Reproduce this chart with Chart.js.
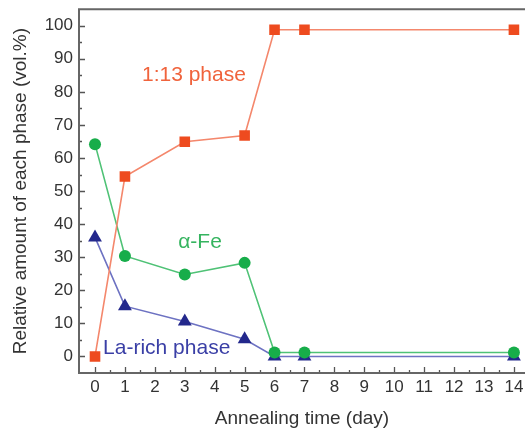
<!DOCTYPE html>
<html>
<head>
<meta charset="utf-8">
<script src="https://cdn.jsdelivr.net/npm/chart.js@4.4.1/dist/chart.umd.min.js"></script>
<style>
  html, body { margin: 0; padding: 0; background: #fff; overflow: hidden; }
  #wrap { width: 533px; height: 438px; position: relative; top: -7px; }
</style>
</head>
<body>
<div id="wrap"><canvas id="phaseChart"></canvas></div>
<script>
// annealing days
var days = [0, 1, 3, 5, 6, 7, 14];
// vol.% of each phase
var phase113 = [0, 54.4, 64.9, 66.8, 98.8, 98.8, 98.8];
var alphaFe = [64.2, 30.4, 24.8, 28.3, 1.2, 1.2, 1.2];
var laRich = [36, 15.2, 10.6, 5.2, 0, 0, 0];
// axis ticks
var xTicks = [0, 1, 2, 3, 4, 5, 6, 7, 8, 9, 10, 11, 12, 13, 14];
var yTicks = [0, 10, 20, 30, 40, 50, 60, 70, 80, 90, 100];
var seriesNames = ['1:13 phase', 'α-Fe', 'La-rich phase'];

function pts(vals) {
  return days.map(function (d, i) { return { x: d, y: vals[i] }; });
}

var tickFont = { family: 'Liberation Sans, Arial, sans-serif', size: 17 };
var titleFont = { family: 'Liberation Sans, Arial, sans-serif', size: 19 };

// frame + inward ticks
const frameTicks = {
  id: 'frameTicks',
  beforeDatasetsDraw(chart) {
    const { ctx, chartArea: { top, bottom, left, right }, scales: { x, y } } = chart;
    ctx.save();
    ctx.strokeStyle = '#555';
    ctx.lineWidth = 1.3;
    ctx.beginPath();
    // y ticks
    for (let v = 0; v <= 100; v += 5) {
      const py = Math.round(y.getPixelForValue(v)) + 0.5;
      const len = v % 10 === 0 ? 6 : 3;
      ctx.moveTo(left, py);
      ctx.lineTo(left + len, py);
    }
    // x ticks
    for (let v = 0; v <= 14; v += 0.5) {
      const px = Math.round(x.getPixelForValue(v)) + 0.5;
      const len = v % 1 === 0 ? 6 : 3;
      ctx.moveTo(px, bottom);
      ctx.lineTo(px, bottom - len);
    }
    ctx.stroke();
    ctx.strokeStyle = '#666';
    ctx.lineWidth = 2;
    ctx.beginPath();
    ctx.moveTo(right + 2, top);
    ctx.lineTo(left, top);
    ctx.lineTo(left, bottom);
    ctx.lineTo(right + 2, bottom);
    ctx.stroke();
    ctx.restore();
  },
  afterDatasetsDraw(chart) {
    const { ctx, scales: { x, y } } = chart;
    ctx.save();
    ctx.font = '21px Liberation Sans, Arial, sans-serif';
    ctx.textBaseline = 'middle';
    ctx.textAlign = 'left';
    ctx.fillStyle = '#f0633c';
    ctx.fillText(seriesNames[0], x.getPixelForValue(1.57), y.getPixelForValue(85));
    ctx.fillStyle = '#35b45f';
    ctx.fillText(seriesNames[1], x.getPixelForValue(2.78), y.getPixelForValue(34.6));
    ctx.fillStyle = '#3a3fa6';
    ctx.fillText(seriesNames[2], x.getPixelForValue(0.27), y.getPixelForValue(2.4));
    ctx.restore();
  }
};

var chart = new Chart(document.getElementById('phaseChart').getContext('2d'), {
  type: 'line',
  data: {
    datasets: [{
      label: seriesNames[0],
      data: pts(phase113),
      borderColor: '#f4876c',
      backgroundColor: '#ee4b1f',
      borderWidth: 1.6,
      pointStyle: 'rect',
      pointRadius: 7.5,
      pointBorderWidth: 0
    }, {
      label: seriesNames[1],
      data: pts(alphaFe),
      borderColor: '#4fc276',
      backgroundColor: '#17ad4a',
      borderWidth: 1.6,
      pointStyle: 'circle',
      pointRadius: 6,
      pointBorderWidth: 0
    }, {
      label: seriesNames[2],
      data: pts(laRich),
      borderColor: '#6d72c2',
      backgroundColor: '#23288c',
      borderWidth: 1.6,
      pointStyle: 'triangle',
      pointRadius: 8,
      pointBorderWidth: 0
    }]
  },
  options: {
    responsive: true,
    maintainAspectRatio: false,
    animation: false,
    layout: { padding: { top: 2, right: 0, left: 0, bottom: 0 } },
    plugins: {
      legend: { display: false },
      tooltip: { enabled: false }
    },
    scales: {
      x: {
        type: 'linear',
        min: -0.535,
        max: 14.37,
        afterBuildTicks: function (s) { s.ticks = xTicks.map(function (v) { return { value: v }; }); },
        afterFit: function (s) { s.height = 58; },
        grid: { display: false, drawTicks: false },
        border: { display: false },
        ticks: { color: '#333', font: tickFont, padding: 4, maxRotation: 0, autoSkip: false },
        title: { display: true, text: 'Annealing time (day)', color: '#333', font: titleFont, padding: { top: 0, bottom: 1 } }
      },
      y: {
        min: -5,
        max: 105,
        afterBuildTicks: function (s) { s.ticks = yTicks.map(function (v) { return { value: v }; }); },
        afterFit: function (s) { s.width = 79; },
        grid: { display: false, drawTicks: false },
        border: { display: false },
        ticks: { color: '#333', font: tickFont, padding: 6 },
        title: { display: true, text: 'Relative amount of each phase (vol.%)', color: '#333', font: titleFont, padding: { top: 9, bottom: 0 } }
      }
    }
  },
  plugins: [frameTicks]
});
</script>
</body>
</html>
